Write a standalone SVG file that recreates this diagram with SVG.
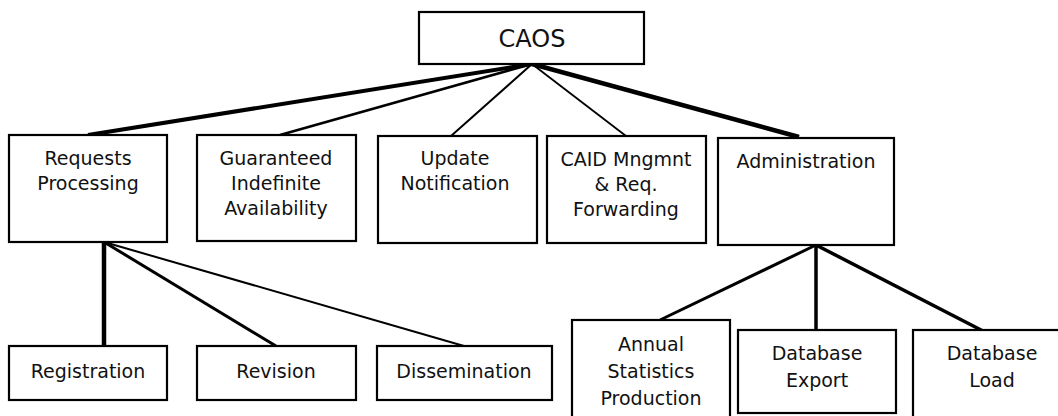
<svg xmlns="http://www.w3.org/2000/svg" width="1058" height="416" viewBox="0 0 1058 416">
<style>
  .box { fill: #ffffff; stroke: #000000; stroke-width: 2.2; }
  .lbl { font-family: "DejaVu Sans", "Liberation Sans", sans-serif; font-size: 19px; fill: #111111; text-anchor: middle; }
  .big { font-size: 24px; }
  .ln { stroke: #000000; stroke-linecap: butt; fill: none; }
</style>
<rect x="0" y="0" width="1058" height="416" fill="#ffffff"/>
<g id="connectors">
  <line class="ln" x1="532" y1="64" x2="88" y2="135" stroke-width="4"/>
  <line class="ln" x1="532" y1="64" x2="280" y2="135" stroke-width="2.6"/>
  <line class="ln" x1="532" y1="64" x2="451" y2="136" stroke-width="2"/>
  <line class="ln" x1="532" y1="64" x2="626" y2="136" stroke-width="1.8"/>
  <line class="ln" x1="532" y1="64" x2="799" y2="137" stroke-width="4.5"/>
  <line class="ln" x1="104" y1="242" x2="104" y2="346" stroke-width="4.5"/>
  <line class="ln" x1="104" y1="242" x2="276" y2="346" stroke-width="3"/>
  <line class="ln" x1="104" y1="242" x2="464" y2="346" stroke-width="2"/>
  <line class="ln" x1="816" y1="245" x2="660" y2="320" stroke-width="3"/>
  <line class="ln" x1="816" y1="245" x2="816" y2="330" stroke-width="3.5"/>
  <line class="ln" x1="816" y1="245" x2="983" y2="331" stroke-width="3.5"/>
</g>
<g id="caos">
  <rect class="box" x="419" y="12" width="225" height="52"/>
  <text class="lbl big" x="532" y="47">CAOS</text>
</g>
<g id="requests-processing">
  <rect class="box" x="9" y="135" width="158" height="107"/>
  <text class="lbl" x="88" y="165">Requests</text>
  <text class="lbl" x="88" y="190">Processing</text>
</g>
<g id="guaranteed">
  <rect class="box" x="197" y="135" width="159" height="106"/>
  <text class="lbl" x="276" y="165">Guaranteed</text>
  <text class="lbl" x="276" y="190">Indefinite</text>
  <text class="lbl" x="276" y="215">Availability</text>
</g>
<g id="update-notification">
  <rect class="box" x="378" y="136" width="159" height="107"/>
  <text class="lbl" x="455" y="165">Update</text>
  <text class="lbl" x="455" y="190">Notification</text>
</g>
<g id="caid">
  <rect class="box" x="547" y="136" width="159" height="107"/>
  <text class="lbl" x="626" y="166">CAID Mngmnt</text>
  <text class="lbl" x="626" y="191">&amp; Req.</text>
  <text class="lbl" x="626" y="216">Forwarding</text>
</g>
<g id="administration">
  <rect class="box" x="718" y="138" width="176" height="107"/>
  <text class="lbl" x="806" y="168">Administration</text>
</g>
<g id="registration">
  <rect class="box" x="9" y="346" width="158" height="54"/>
  <text class="lbl" x="88" y="378">Registration</text>
</g>
<g id="revision">
  <rect class="box" x="197" y="346" width="159" height="54"/>
  <text class="lbl" x="276" y="378">Revision</text>
</g>
<g id="dissemination">
  <rect class="box" x="377" y="346" width="175" height="54"/>
  <text class="lbl" x="464" y="378">Dissemination</text>
</g>
<g id="annual-statistics">
  <rect class="box" x="572" y="320" width="158" height="105"/>
  <text class="lbl" x="651" y="351">Annual</text>
  <text class="lbl" x="651" y="378">Statistics</text>
  <text class="lbl" x="651" y="405">Production</text>
</g>
<g id="database-export">
  <rect class="box" x="738" y="330" width="158" height="83"/>
  <text class="lbl" x="817" y="360">Database</text>
  <text class="lbl" x="817" y="387">Export</text>
</g>
<g id="database-load">
  <rect class="box" x="913" y="330" width="158" height="95"/>
  <text class="lbl" x="992" y="360">Database</text>
  <text class="lbl" x="992" y="387">Load</text>
</g>
</svg>
